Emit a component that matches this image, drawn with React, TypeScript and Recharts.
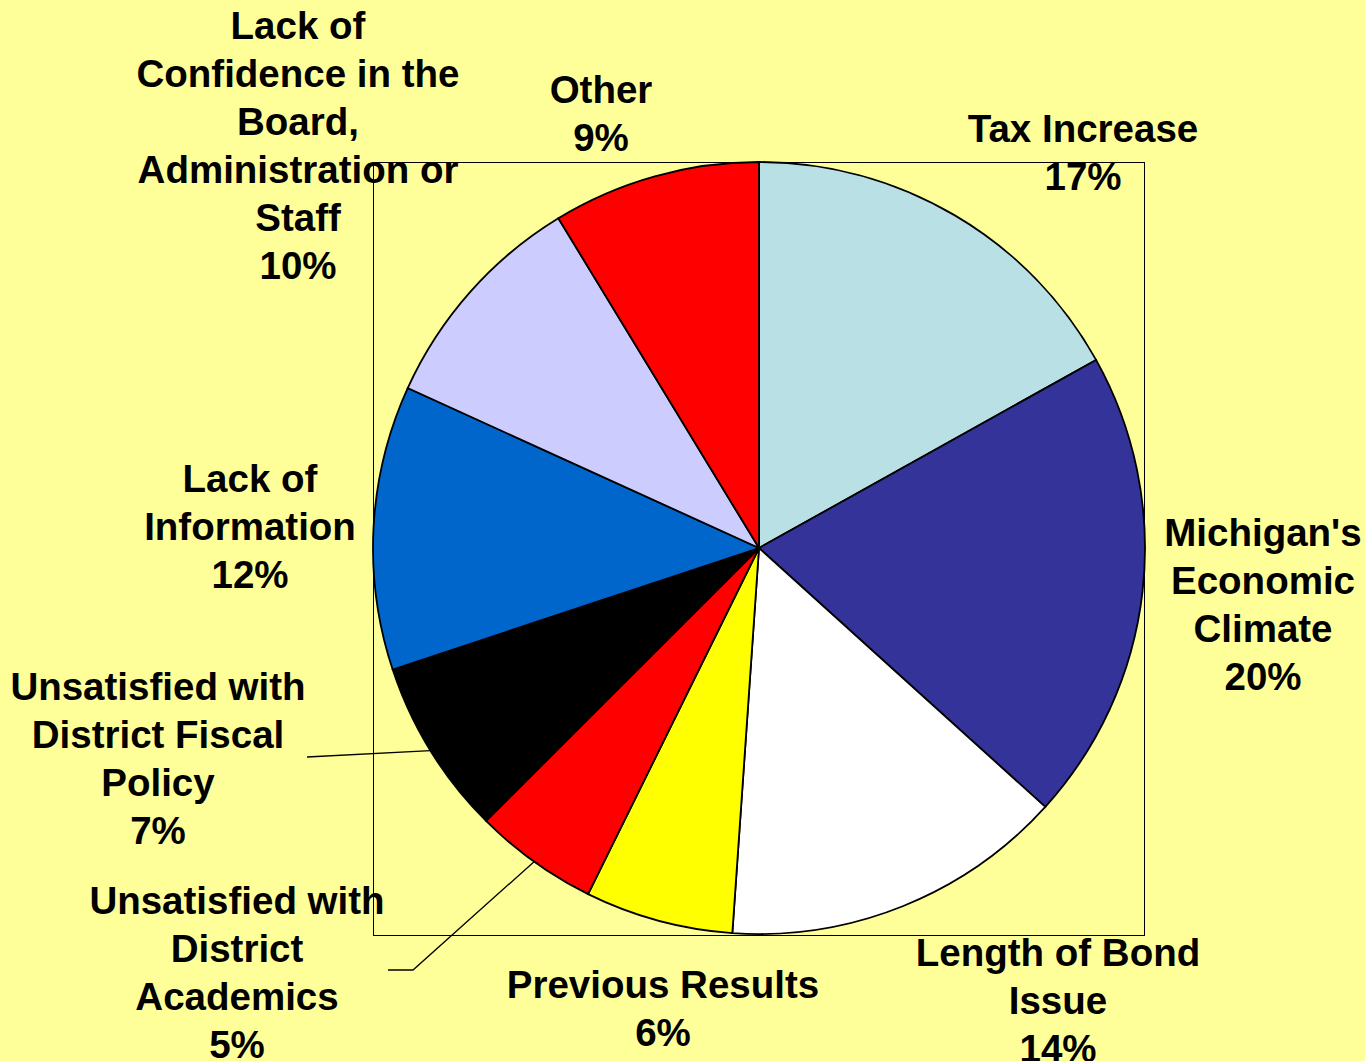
import React from "react";
import { PieChart, Pie, Cell } from "recharts";

const categories = [
  "Tax Increase",
  "Michigan's Economic Climate",
  "Length of Bond Issue",
  "Previous Results",
  "Unsatisfied with District Academics",
  "Unsatisfied with District Fiscal Policy",
  "Lack of Information",
  "Lack of Confidence in the Board, Administration or Staff",
  "Other",
];
const values = [16.9, 19.8, 14.4, 6.2, 5.2, 7.4, 11.9, 9.5, 8.7];
const labelLines = [
  ["Tax Increase"],
  ["Michigan's", "Economic", "Climate"],
  ["Length of Bond", "Issue"],
  ["Previous Results"],
  ["Unsatisfied with", "District", "Academics"],
  ["Unsatisfied with", "District Fiscal", "Policy"],
  ["Lack of", "Information"],
  ["Lack of", "Confidence in the", "Board,", "Administration or", "Staff"],
  ["Other"],
];
const colors = [
  "#B9E0E4",
  "#333399",
  "#FFFFFF",
  "#FFFF00",
  "#FF0000",
  "#000000",
  "#0066CC",
  "#CCCCFF",
  "#FF0000",
];

// label block centre offsets from the pie centre
const labelOffsets: [number, number][] = [
  [324, -396],
  [504, 56],
  [299, 452],
  [-96, 460],
  [-522, 424],
  [-601, 210],
  [-509, -22],
  [-461, -403],
  [-158, -435],
];
// leader line points (offsets from pie centre), null for none
const leaderPoints: ([number, number][] | null)[] = [
  null,
  null,
  null,
  null,
  [[-346, 422], [-371, 422]],
  [[-452, 209]],
  null,
  null,
  null,
];

const data = categories.map((name, i) => ({ name, value: values[i] }));

const W = 1365;
const H = 1061;
const CX = 759;
const CY = 548;
const R = 386;
const FONT = 38.5;
const LINE_H = 48;
const RAD = Math.PI / 180;

const renderLabel = (props: any) => {
  const { cx, cy, midAngle, outerRadius, index, value } = props;
  const lines = [...labelLines[index], `${Math.round(value)}%`];
  const [ox, oy] = labelOffsets[index];
  const bx = cx + ox;
  const by = cy + oy;
  const top = by - ((lines.length - 1) * LINE_H) / 2;
  const lp = leaderPoints[index];
  let path: string | null = null;
  if (lp) {
    const ax = cx + outerRadius * Math.cos(-midAngle * RAD);
    const ay = cy + outerRadius * Math.sin(-midAngle * RAD);
    path = `M${ax},${ay}` + lp.map(([px, py]) => ` L${cx + px},${cy + py}`).join("");
  }
  return (
    <g key={`lbl-${index}`}>
      {path && <path d={path} stroke="#000" strokeWidth={1.3} fill="none" />}
      <text
        x={bx}
        textAnchor="middle"
        fontFamily="'Liberation Sans', Arial, sans-serif"
        fontWeight="bold"
        fontSize={FONT}
        fill="#000"
      >
        {lines.map((l, k) => (
          <tspan key={k} x={bx} y={top + k * LINE_H} dominantBaseline="central">
            {l}
          </tspan>
        ))}
      </text>
    </g>
  );
};

export default function App() {
  return (
    <div
      style={{
        position: "absolute",
        left: 0,
        top: 0,
        width: W,
        height: H,
        overflow: "hidden",
        background: "#FFFF99",
      }}
    >
      <div
        style={{
          position: "absolute",
          boxSizing: "border-box",
          left: CX - R,
          top: CY - R,
          width: 2 * R,
          height: 2 * R + 2,
          border: "1.3px solid #000",
        }}
      />
      <div style={{ position: "absolute", left: 0, top: 0 }}>
        <PieChart width={W} height={H} margin={{ top: 0, right: 0, bottom: 0, left: 0 }}>
          <Pie
            data={data}
            dataKey="value"
            nameKey="name"
            cx={CX}
            cy={CY}
            outerRadius={R}
            startAngle={90}
            endAngle={-270}
            stroke="#000"
            strokeWidth={1.8}
            label={renderLabel}
            labelLine={false}
            isAnimationActive={false}
          >
            {data.map((d, i) => (
              <Cell key={d.name} fill={colors[i]} />
            ))}
          </Pie>
        </PieChart>
      </div>
    </div>
  );
}
